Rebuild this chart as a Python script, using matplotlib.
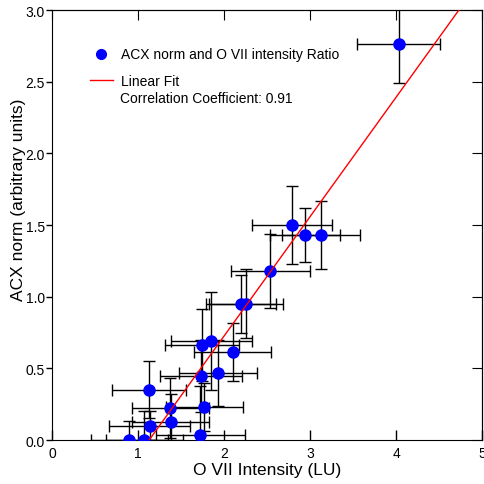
import numpy as np
import matplotlib
matplotlib.use('Agg')
import matplotlib.pyplot as plt
from matplotlib.lines import Line2D

plt.rcParams['font.family'] = ['Liberation Sans', 'DejaVu Sans']

# O VII intensity (LU) and ACX norm, with their errors
ovii = [4.03, 2.79, 2.94, 3.13, 2.54, 2.20, 2.26, 1.745, 1.85, 2.10,
        1.733, 1.93, 1.13, 1.375, 1.77, 1.38, 1.134, 0.90, 1.075, 1.725]
ovii_err = [0.48, 0.46, 0.41, 0.45, 0.46, 0.41, 0.43, 0.43, 0.47, 0.45,
            0.48, 0.45, 0.43, 0.45, 0.45, 0.45, 0.47, 0.45, 0.45, 0.52]
acx = [2.76, 1.50, 1.43, 1.43, 1.18, 0.95, 0.95, 0.665, 0.69, 0.615,
       0.445, 0.47, 0.351, 0.225, 0.23, 0.123, 0.10, 0.0, 0.0, 0.037]
acx_err = [0.27, 0.27, 0.19, 0.24, 0.26, 0.20, 0.24, 0.25, 0.34, 0.20,
           0.25, 0.23, 0.20, 0.21, 0.17, 0.20, 0.10, 0.13, 0.20, 0.34]

# linear fit
fit_slope = 0.833
fit_x0 = 1.13
corr = 0.91

fig = plt.figure(figsize=(4.84, 4.85), dpi=100)
ax = fig.add_axes([0.1074, 0.0907, 0.8885, 0.8866])

ax.errorbar(ovii, acx, xerr=ovii_err, yerr=acx_err, fmt='none',
            ecolor='black', elinewidth=1.0, capsize=4, capthick=1.0, zorder=2)
ax.plot(ovii, acx, 'o', color='#0000ff', markersize=8, zorder=3)

xs = np.array([0, 5])
ax.plot(xs, fit_slope * (xs - fit_x0), color='red', lw=1.0, zorder=4)

ax.set_xlim(0, 5)
ax.set_ylim(0, 3)
ax.set_xticks([0, 1, 2, 3, 4, 5])
ax.set_yticks(np.arange(0, 3.01, 0.5))
ax.set_yticklabels(['%.1f' % v for v in np.arange(0, 3.01, 0.5)])
ax.tick_params(labelsize=10, colors='black', width=1)
ax.tick_params(axis='y', direction='out', length=4, pad=1)
ax.tick_params(axis='x', direction='in', length=7, pad=4)

# inward ticks on top and right
axt = ax.secondary_xaxis('top')
axt.set_xticks([0, 1, 2, 3, 4, 5])
axt.tick_params(direction='in', length=7, labeltop=False)
axr = ax.secondary_yaxis('right')
axr.set_yticks(np.arange(0, 3.01, 0.5))
axr.tick_params(direction='in', length=7, labelright=False)

ax.set_xlabel('O VII Intensity (LU)', fontsize=12.5, labelpad=2)
ax.set_ylabel('ACX norm (arbitrary units)', fontsize=12.5)
ax.yaxis.set_label_coords(-0.061, 0.56)

handles = [Line2D([], [], marker='o', color='#0000ff', ls='none', markersize=7),
           Line2D([], [], color='red', lw=1)]
ax.legend(handles, ['ACX norm and O VII intensity Ratio', 'Linear Fit'],
          loc='upper left', bbox_to_anchor=(0.06, 0.942), frameon=False,
          fontsize=10, handlelength=1.6, handletextpad=0.6, labelspacing=0.9)
ax.text(0.158, 0.795, 'Correlation Coefficient: %.2f' % corr,
        transform=ax.transAxes, fontsize=10, va='center', ha='left')

fig.savefig('out.png', dpi=100)
